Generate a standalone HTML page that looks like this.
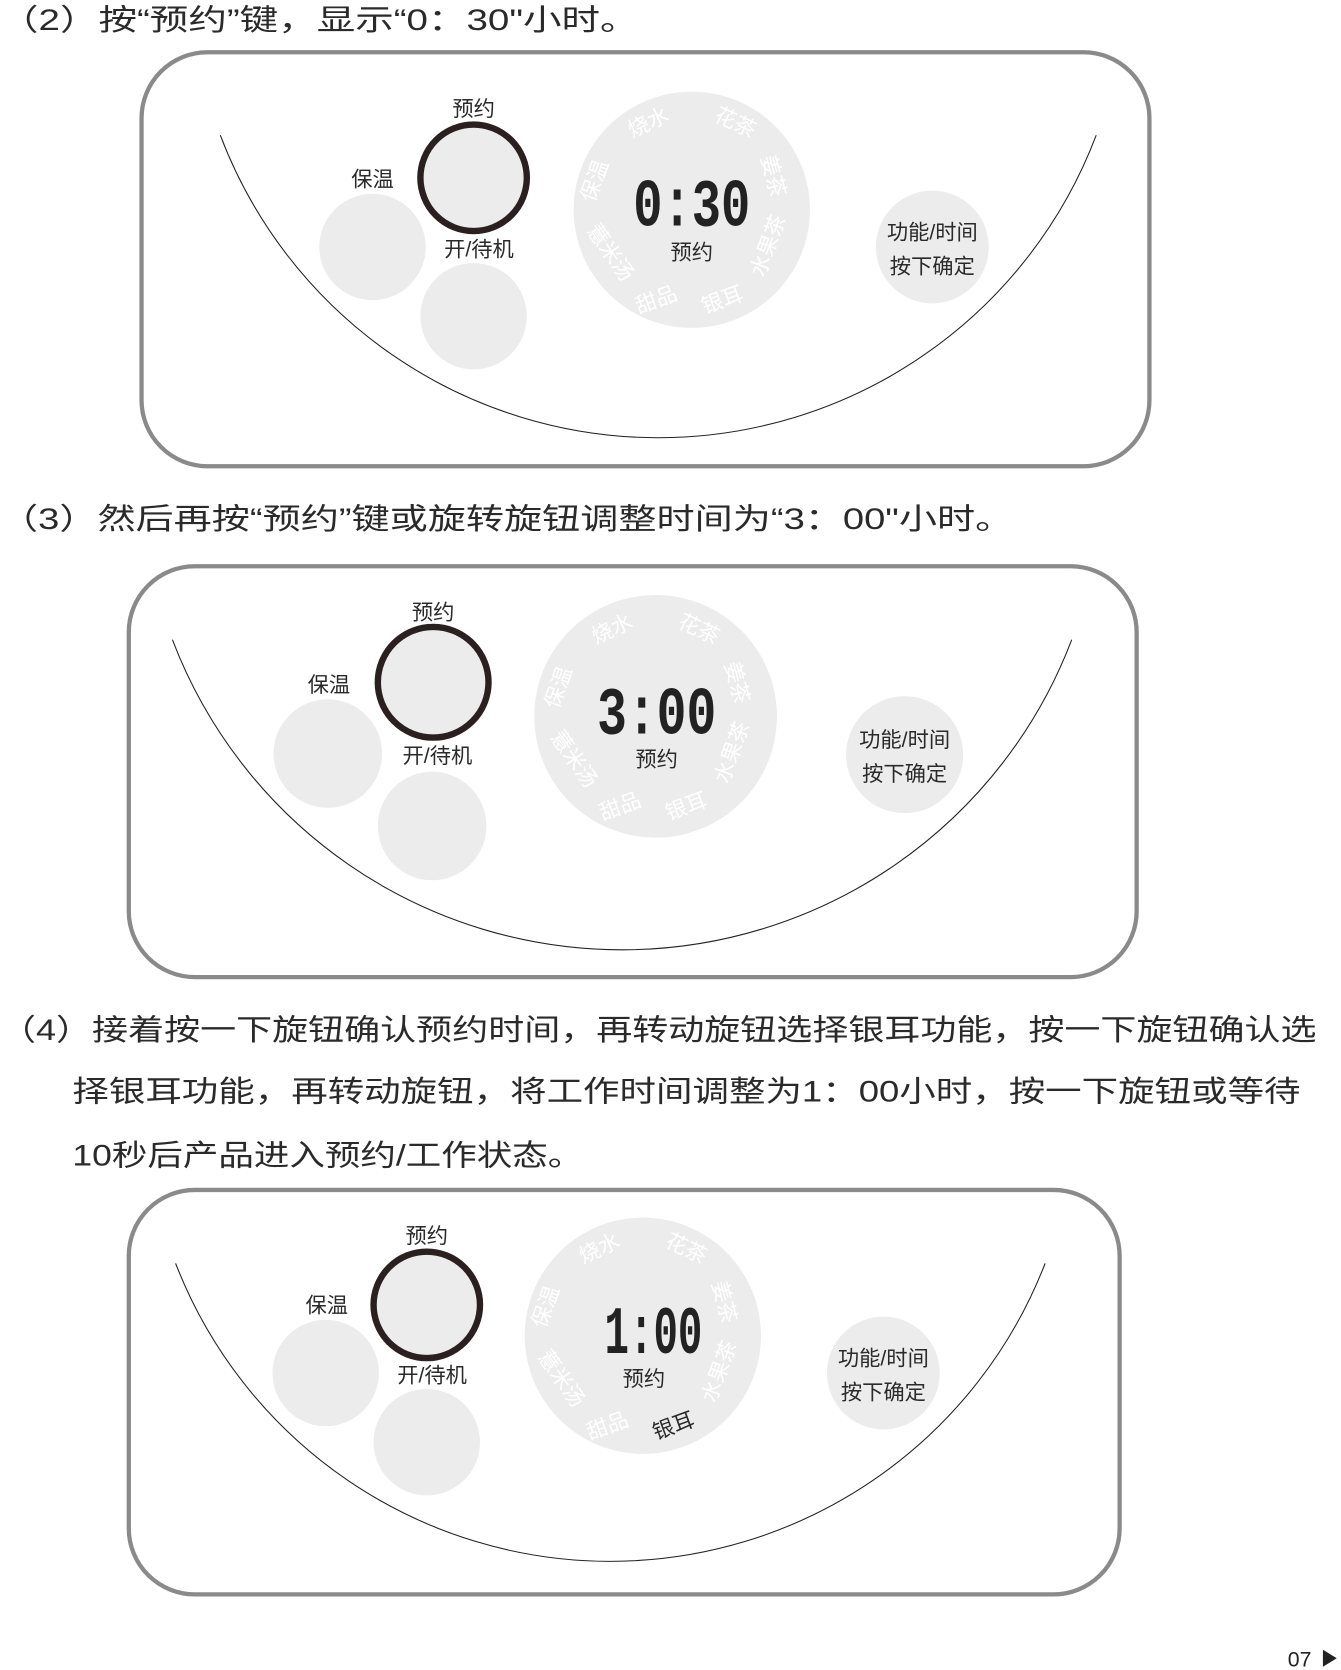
<!DOCTYPE html>
<html><head><meta charset="utf-8"><style>
html,body{margin:0;padding:0;background:#fff;}
svg{display:block;}
text{font-family:"Liberation Sans","Noto Sans CJK SC",sans-serif;}
.t{font-size:28px;fill:#2a2a2a;}
.lb{font-size:20px;fill:#2a2a2a;text-anchor:middle;}
.w{font-size:20px;fill:#fff;text-anchor:middle;}
.dg{font-size:64px;fill:#222;text-anchor:middle;font-weight:bold;font-family:"Liberation Mono","DejaVu Sans Mono",monospace;}
</style></head><body>
<svg width="1341" height="1670" viewBox="0 0 1260 1569" xmlns="http://www.w3.org/2000/svg">
<defs>
<g id="ring">
<text class="w" transform="translate(-38,-76) rotate(-25)">烧水</text>
<text class="w" transform="translate(38,-76) rotate(25)">花茶</text>
<text class="w" transform="translate(70,-30) rotate(75)">姜茶</text>
<text class="w" transform="translate(78,36) rotate(-70)">水果茶</text>
<text class="w" transform="translate(-31,91) rotate(-20)">甜品</text>
<text class="w" transform="translate(-82,44) rotate(55)">薏米汤</text>
<text class="w" transform="translate(-85,-25) rotate(-70)">保温</text>
</g>
</defs>

<text class="t" x="0" y="28" textLength="600" lengthAdjust="spacingAndGlyphs">（2）按“预约”键，显示“0：30"小时。</text>
<text class="t" x="0" y="497" textLength="952" lengthAdjust="spacingAndGlyphs">（3）然后再按“预约”键或旋转旋钮调整时间为“3：00"小时。</text>
<text class="t" x="0" y="977" textLength="1237" lengthAdjust="spacingAndGlyphs">（4）接着按一下旋钮确认预约时间，再转动旋钮选择银耳功能，按一下旋钮确认选</text>
<text class="t" x="68" y="1035" textLength="1154" lengthAdjust="spacingAndGlyphs">择银耳功能，再转动旋钮，将工作时间调整为1：00小时，按一下旋钮或等待</text>
<text class="t" x="68" y="1095" textLength="480" lengthAdjust="spacingAndGlyphs">10秒后产品进入预约/工作状态。</text>

<!-- Panel 1 -->
<rect x="133" y="49" width="947" height="389" rx="62" fill="none" stroke="#8a8a8a" stroke-width="4"/>
<path d="M207,127 A440,440 0 0 0 1030,127" fill="none" stroke="#222" stroke-width="1"/>
<circle cx="350" cy="232" r="50" fill="#ececec"/>
<circle cx="445" cy="297" r="50" fill="#ececec"/>
<circle cx="445" cy="167" r="50" fill="#ececec" stroke="#2a2020" stroke-width="6"/>
<text class="lb" x="445" y="109">预约</text>
<text class="lb" x="350" y="175">保温</text>
<text class="lb" x="450" y="241">开/待机</text>
<circle cx="650" cy="197" r="111" fill="#ececec"/>
<g transform="translate(650,197)"><use href="#ring"/><text class="w" transform="translate(31,91) rotate(-20)">银耳</text></g>
<text class="dg" x="650" y="212" textLength="110" lengthAdjust="spacingAndGlyphs">0:30</text>
<text class="lb" x="650" y="244">预约</text>
<circle cx="876" cy="232" r="53" fill="#ececec"/>
<text class="lb" x="876" y="225">功能/时间</text>
<text class="lb" x="876" y="257">按下确定</text>

<!-- Panel 2 -->
<rect x="121" y="532" width="947" height="386" rx="62" fill="none" stroke="#8a8a8a" stroke-width="4"/>
<path d="M162,601 A452,452 0 0 0 1007,601" fill="none" stroke="#222" stroke-width="1"/>
<circle cx="308" cy="708" r="51" fill="#ececec"/>
<circle cx="406" cy="776" r="51" fill="#ececec"/>
<circle cx="407" cy="641" r="52" fill="#ececec" stroke="#2a2020" stroke-width="6"/>
<text class="lb" x="407" y="582">预约</text>
<text class="lb" x="309" y="650">保温</text>
<text class="lb" x="411" y="717">开/待机</text>
<circle cx="616" cy="673" r="114" fill="#ececec"/>
<g transform="translate(616,673)"><use href="#ring"/><text class="w" transform="translate(31,91) rotate(-20)">银耳</text></g>
<text class="dg" x="617" y="689" textLength="112" lengthAdjust="spacingAndGlyphs">3:00</text>
<text class="lb" x="617" y="720">预约</text>
<circle cx="850" cy="709" r="55" fill="#ececec"/>
<text class="lb" x="850" y="702">功能/时间</text>
<text class="lb" x="850" y="734">按下确定</text>

<!-- Panel 3 -->
<rect x="121" y="1118" width="931" height="380" rx="62" fill="none" stroke="#8a8a8a" stroke-width="4"/>
<path d="M165,1187 A438,438 0 0 0 982,1187" fill="none" stroke="#222" stroke-width="1"/>
<circle cx="306" cy="1290" r="50" fill="#ececec"/>
<circle cx="401" cy="1355" r="50" fill="#ececec"/>
<circle cx="401" cy="1226" r="50" fill="#ececec" stroke="#2a2020" stroke-width="6"/>
<text class="lb" x="401" y="1168">预约</text>
<text class="lb" x="307" y="1233">保温</text>
<text class="lb" x="406" y="1299">开/待机</text>
<circle cx="604" cy="1255" r="111" fill="#ececec"/>
<g transform="translate(604,1255)"><use href="#ring"/><text class="lb" transform="translate(31,91) rotate(-20)">银耳</text></g>
<text class="dg" x="614" y="1271" textLength="92" lengthAdjust="spacingAndGlyphs">1:00</text>
<text class="lb" x="605" y="1302">预约</text>
<circle cx="830" cy="1290" r="53" fill="#ececec"/>
<text class="lb" x="830" y="1283">功能/时间</text>
<text class="lb" x="830" y="1315">按下确定</text>

<text x="1210" y="1566" font-size="20" fill="#222">07</text>
<polygon points="1243,1550 1243,1566 1256,1558" fill="#222"/>
</svg>
</body></html>
